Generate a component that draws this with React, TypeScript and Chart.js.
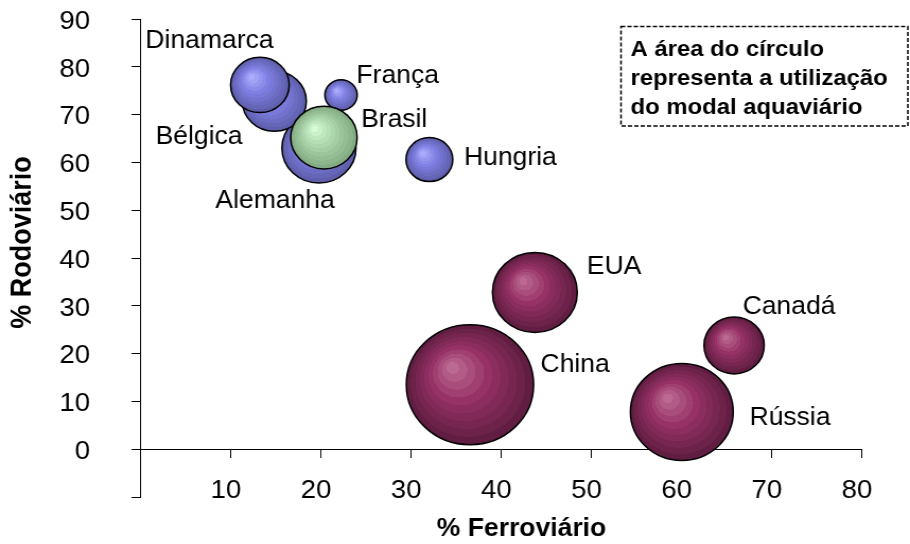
import { useEffect, useRef } from 'react';
import { Chart, registerables } from 'chart.js';

Chart.register(...registerables);

// ---------------- data ----------------
const COUNTRIES = ['Alemanha', 'Bélgica', 'Dinamarca', 'França', 'Hungria', 'Brasil', 'EUA', 'China', 'Canadá', 'Rússia'];
const FERROVIARIO = [19.85, 14.9, 13.3, 22.3, 32.1, 20.4, 43.8, 36.6, 65.9, 60.1];
const RODOVIARIO = [63.0, 72.8, 76.2, 74.1, 60.6, 65.2, 32.8, 13.5, 21.7, 7.8];
const AQUAVIARIO = [16.8, 12.5, 10.5, 3.2, 6.7, 13.5, 22.0, 49.5, 11.1, 32.3];
// series: 0 = Brasil (green), 1 = europeus (blue), 2 = grandes países (maroon)
const SERIE = [1, 1, 1, 1, 1, 0, 2, 2, 2, 2];
const SERIES_NAMES = ['Brasil', 'Europa', 'Outros'];

const X_TICKS_HIDDEN = [0];
const Y_TICKS_HIDDEN = [-10];
const X_TITLE = '% Ferroviário';
const Y_TITLE = '% Rodoviário';
const NOTE_LINES = ['A área do círculo', 'representa a utilização', 'do modal aquaviário'];

// ---------------- styles ----------------
const FONT = '"Liberation Sans", Arial, Helvetica, sans-serif';
const CSS_W = 910;
const H = 544;
const W = 858; // internal canvas width (stretched horizontally to CSS_W)
const MAX_R = 60;
const LABEL_OFFSETS: [number, number][] = [
  [-97.7, 53], [-112, 36], [-108, -43.5], [14.5, -19], [32.6, -1],
  [35, -17.5], [49, -25.4], [66.5, -19.7], [8, -38], [63.8, 6],
];
const PALETTES: number[][][] = [
  [[218, 255, 218], [172, 214, 172], [128, 168, 128]],
  [[178, 178, 255], [128, 128, 228], [92, 92, 168]],
  [[192, 112, 152], [150, 50, 102], [92, 28, 62]],
];

function mix(p: number[][], t: number): string {
  let a: number[], b: number[], u: number;
  if (t < 0.45) { a = p[0]; b = p[1]; u = t / 0.45; } else { a = p[1]; b = p[2]; u = (t - 0.45) / 0.55; }
  const c = a.map((v, i) => Math.round(v + (b[i] - v) * u));
  return `rgb(${c[0]},${c[1]},${c[2]})`;
}

function sphere(ctx: CanvasRenderingContext2D, cx: number, cy: number, r: number, pal: number[][]) {
  const g = ctx.createRadialGradient(cx - 0.3 * r, cy - 0.31 * r, 0, cx, cy, r);
  const bands = 10;
  for (let i = 0; i < bands; i++) {
    const c = mix(pal, (i + 0.5) / bands);
    g.addColorStop(i / bands, c);
    g.addColorStop((i + 1) / bands, c);
  }
  return g;
}

const maxAq = Math.max(...AQUAVIARIO);

function buildDatasets() {
  return SERIES_NAMES.map((name, s) => {
    const pts = COUNTRIES.map((c, i) => ({ i, c })).filter((o) => SERIE[o.i] === s).map(({ i, c }) => ({
      x: FERROVIARIO[i],
      y: RODOVIARIO[i],
      r: MAX_R * Math.sqrt(AQUAVIARIO[i] / maxAq),
      name: c,
      dx: LABEL_OFFSETS[i][0],
      dy: LABEL_OFFSETS[i][1],
    }));
    const pal = PALETTES[s];
    return {
      label: name,
      data: pts,
      borderColor: '#000',
      borderWidth: 1.5,
      clip: false,
      backgroundColor: (c: any) => {
        const chart = c.chart;
        const xs = chart.scales?.x, ys = chart.scales?.y;
        if (c.type !== 'data' || !xs || !ys || !c.raw) return mix(pal, 0.5);
        const cx = xs.getPixelForValue(c.raw.x);
        const cy = ys.getPixelForValue(c.raw.y);
        const r = c.raw.r;
        if (!isFinite(cx) || !isFinite(cy) || !isFinite(r)) return mix(pal, 0.5);
        return sphere(chart.ctx, cx, cy, r, pal);
      },
    };
  });
}

const labelsPlugin = {
  id: 'bubbleLabels',
  afterDatasetsDraw(chart: any) {
    const ctx = chart.ctx as CanvasRenderingContext2D;
    ctx.save();
    ctx.font = `25px ${FONT}`;
    ctx.fillStyle = '#000';
    ctx.textAlign = 'left';
    ctx.textBaseline = 'middle';
    chart.data.datasets.forEach((ds: any, di: number) => {
      const meta = chart.getDatasetMeta(di);
      meta.data.forEach((el: any, i: number) => {
        const p = ds.data[i];
        ctx.fillText(p.name, el.x + p.dx, el.y + p.dy);
      });
    });
    ctx.restore();
  },
};

const decorPlugin = {
  id: 'decor',
  afterDraw(chart: any) {
    const ctx = chart.ctx as CanvasRenderingContext2D;
    const area = chart.chartArea;
    ctx.save();
    ctx.fillStyle = '#000';
    // x title
    ctx.font = `bold 25px ${FONT}`;
    ctx.textAlign = 'center';
    ctx.textBaseline = 'middle';
    ctx.fillText(X_TITLE, area.left + 359.7, 529);
    // y title
    ctx.save();
    ctx.translate(21.7, 242.5);
    ctx.rotate(-Math.PI / 2);
    ctx.font = `bold 27px ${FONT}`;
    ctx.fillText(Y_TITLE, 0, 0);
    ctx.restore();
    // note box
    ctx.strokeStyle = '#000';
    ctx.lineWidth = 1.5;
    ctx.setLineDash([4, 2]);
    ctx.strokeRect(585.5, 26.5, 270.5, 99.5);
    ctx.setLineDash([]);
    ctx.font = `bold 22.5px ${FONT}`;
    ctx.textAlign = 'left';
    ctx.textBaseline = 'alphabetic';
    NOTE_LINES.forEach((t, i) => ctx.fillText(t, 594.5, 55.5 + i * 29));
    ctx.restore();
  },
};

const zeroPad = (s: any) => {
  s.paddingTop = 0;
  s.paddingBottom = 0;
  s.paddingLeft = 0;
  s.paddingRight = 0;
};

export default function App() {
  const ref = useRef<HTMLCanvasElement | null>(null);
  useEffect(() => {
    if (!ref.current) return;
    const chart = new Chart(ref.current, {
      type: 'bubble',
      data: { datasets: buildDatasets() as any },
      options: {
        animation: false,
        responsive: false,
        events: [],
        layout: { autoPadding: false, padding: { left: 0, right: 46, top: 19, bottom: 47 } },
        plugins: { legend: { display: false }, tooltip: { enabled: false } },
        scales: {
          x: {
            type: 'linear',
            min: 0,
            max: 80,
            position: { y: 0 } as any,
            grid: { drawOnChartArea: false, drawTicks: true, tickLength: 8, color: '#000', lineWidth: 1 },
            border: { display: true, color: '#000', width: 1 },
            ticks: {
              stepSize: 10,
              padding: 18,
              labelOffset: -4,
              color: '#000',
              font: { family: FONT, size: 26 },
              maxRotation: 0,
              callback: (v: any) => (X_TICKS_HIDDEN.includes(Number(v)) ? '' : String(v)),
            },
            afterFit: zeroPad,
          },
          y: {
            type: 'linear',
            min: -10,
            max: 90,
            position: 'left',
            grid: { drawOnChartArea: false, drawTicks: true, tickLength: 8, color: '#000', lineWidth: 1 },
            border: { display: true, color: '#000', width: 1 },
            ticks: {
              stepSize: 10,
              padding: 39,
              labelOffset: 2.7,
              color: '#000',
              font: { family: FONT, size: 26 },
              callback: (v: any) => (Y_TICKS_HIDDEN.includes(Number(v)) ? '' : String(v)),
            },
            afterFit: (s: any) => { zeroPad(s); s.width = 132; },
          },
        },
      },
      plugins: [labelsPlugin, decorPlugin],
    });
    return () => chart.destroy();
  }, []);
  return (
    <div style={{ position: 'absolute', left: 0, top: 0, width: CSS_W, height: H, background: '#fff' }}>
      <canvas ref={ref} width={W} height={H} style={{ width: `${CSS_W}px`, height: `${H}px`, display: 'block' }} />
    </div>
  );
}
